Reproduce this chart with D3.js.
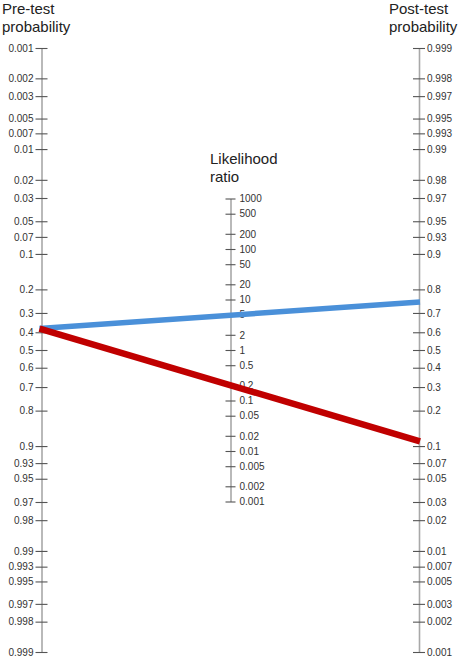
<!DOCTYPE html>
<html>
<head>
<meta charset="utf-8">
<script src="https://cdn.jsdelivr.net/npm/d3@7"></script>
<style>
  body { margin: 0; background: #fff; }
  text { font-family: "Liberation Sans", Arial, sans-serif; }
</style>
</head>
<body>
<div id="chart"></div>
<script>
// tick values on the three scales
const preTicks = [0.001, 0.002, 0.003, 0.005, 0.007, 0.01, 0.02, 0.03, 0.05, 0.07, 0.1, 0.2, 0.3, 0.4, 0.5, 0.6, 0.7, 0.8, 0.9, 0.93, 0.95, 0.97, 0.98, 0.99, 0.993, 0.995, 0.997, 0.998, 0.999];
const postTicks = preTicks.slice();
const lrTicks = [1000, 500, 200, 100, 50, 20, 10, 5, 2, 1, 0.5, 0.2, 0.1, 0.05, 0.02, 0.01, 0.005, 0.002, 0.001];

// the two lines
const lineNames = ["positive", "negative"];
const preProb = [0.38, 0.38];
const postProb = [0.75, 0.11];
const lineColors = ["#4a90d9", "#c00000"];
const lineWidths = [5.5, 6.5];

const width = 458, height = 660;
const xLeft = 41.5, xRight = 419, xMid = 230.5;

function logit(p) { return Math.log(p / (1 - p)); }

// wrap a linear scale so it takes probabilities (axis needs range + copy)
function probScale(lin) {
  const f = p => lin(logit(p));
  f.range = () => lin.range();
  f.copy = () => probScale(lin.copy());
  return f;
}

const yPre = probScale(d3.scaleLinear().domain([logit(0.001), logit(0.999)]).range([48, 652]));
const yPost = probScale(d3.scaleLinear().domain([logit(0.999), logit(0.001)]).range([48, 652]));
const yLR = d3.scaleLog().domain([1000, 0.001]).range([198.5, 501.5]);

const svg = d3.select("#chart").append("svg")
  .attr("width", width)
  .attr("height", height);

function styleAxis(g, side) {
  g.select(".domain").attr("stroke", "#a8a8a8").attr("stroke-width", 1.6);
  g.selectAll(".tick line").attr("x1", -6).attr("x2", 6)
    .attr("stroke", "#555").attr("stroke-width", 1.1);
  g.selectAll(".tick text")
    .attr("x", side == "left" ? -8 : 8)
    .attr("fill", "#333")
    .attr("font-size", "10px");
}

const leftAxis = svg.append("g")
  .attr("transform", "translate(" + xLeft + ",0)")
  .call(d3.axisLeft(yPre).tickValues(preTicks).tickFormat(d => d).tickSizeOuter(0))
  .call(styleAxis, "left");

const rightAxis = svg.append("g")
  .attr("transform", "translate(" + xRight + ",0)")
  .call(d3.axisRight(yPost).tickValues(postTicks).tickFormat(d => d).tickSizeOuter(0))
  .call(styleAxis, "right");

const midAxis = svg.append("g")
  .attr("transform", "translate(" + xMid + ",0)")
  .call(d3.axisRight(yLR).tickValues(lrTicks).tickFormat(d => d).tickSizeOuter(0))
  .call(styleAxis, "right");
midAxis.selectAll(".tick line").attr("x1", -5).attr("x2", 5);
midAxis.selectAll(".tick text").attr("x", 9);

// titles
function title(lines, x, y) {
  const t = svg.append("text")
    .attr("x", x).attr("y", y)
    .attr("font-size", "15px")
    .attr("fill", "#222");
  lines.forEach((s, i) => {
    t.append("tspan").attr("x", x).attr("dy", i == 0 ? 0 : 18).text(s);
  });
}
title(["Pre-test", "probability"], 2, 14);
title(["Post-test", "probability"], 389, 14);
title(["Likelihood", "ratio"], 210, 164);

// nomogram lines
svg.selectAll(".nomo")
  .data(lineNames)
  .enter()
  .append("line")
  .attr("class", "nomo")
  .attr("x1", xLeft - 2)
  .attr("y1", (d, i) => yPre(preProb[i]))
  .attr("x2", xRight + 1)
  .attr("y2", (d, i) => yPost(postProb[i]))
  .attr("stroke", (d, i) => lineColors[i])
  .attr("stroke-width", (d, i) => lineWidths[i]);
</script>
</body>
</html>
